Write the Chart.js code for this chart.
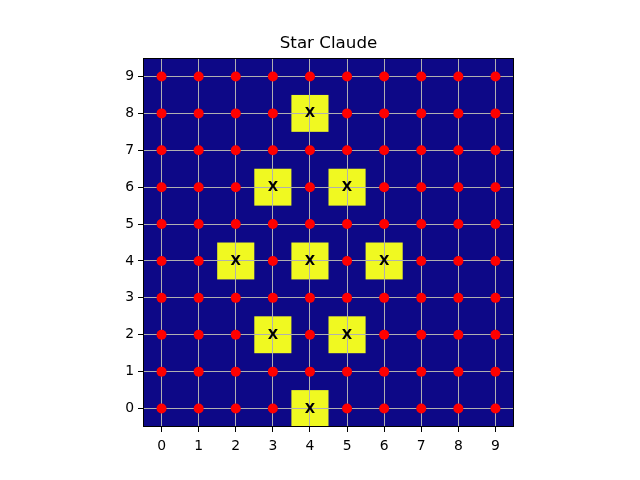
<!DOCTYPE html>
<html>
<head>
<meta charset="utf-8">
<script src="https://cdn.jsdelivr.net/npm/chart.js@4/dist/chart.umd.min.js"></script>
<style>
html,body{margin:0;padding:0;background:#fff;}
#wrap{width:640px;height:480px;position:relative;}
</style>
</head>
<body>
<div id="wrap"><canvas id="c" width="640" height="480"></canvas></div>
<script>
// Board rows, top row is y = 9, bottom row is y = 0. 'X' = star cell.
const boardRows = [
  "..........",
  "....X.....",
  "..........",
  "...X.X....",
  "..........",
  "..X.X.X...",
  "..........",
  "...X.X....",
  "..........",
  "....X....."
];
const xTicks = [0,1,2,3,4,5,6,7,8,9];
const yTicks = [0,1,2,3,4,5,6,7,8,9];
const starLabel = "X";
const titleText = "Star Claude";

const starCells = [];
const dotPoints = [];
boardRows.forEach((row, i) => {
  const y = boardRows.length - 1 - i;
  row.split('').forEach((ch, x) => {
    if (ch === 'X') starCells.push({x, y});
    else dotPoints.push({x, y});
  });
});

const FONT = "'DejaVu Sans', sans-serif";

const boardPlugin = {
  id: 'board',
  beforeDraw(chart) {
    const {ctx, chartArea: a, scales: {x, y}} = chart;
    ctx.save();
    ctx.fillStyle = '#0d0887';
    ctx.fillRect(a.left, a.top, a.right - a.left, a.bottom - a.top);
    ctx.fillStyle = '#f0f921';
    starCells.forEach(c => {
      const x0 = x.getPixelForValue(c.x - 0.5), x1 = x.getPixelForValue(c.x + 0.5);
      const y0 = y.getPixelForValue(c.y + 0.5), y1 = y.getPixelForValue(c.y - 0.5);
      ctx.fillRect(x0, y0, x1 - x0, y1 - y0);
    });
    ctx.restore();
  },
  afterDatasetsDraw(chart) {
    const {ctx, scales: {x, y}} = chart;
    ctx.save();
    ctx.fillStyle = '#000';
    ctx.font = "bold 13.5px " + FONT;
    ctx.textAlign = 'center';
    ctx.textBaseline = 'middle';
    starCells.forEach(c => {
      ctx.fillText(starLabel, x.getPixelForValue(c.x), y.getPixelForValue(c.y) + 0.5);
    });
    ctx.restore();
  },
  afterDraw(chart) {
    const {ctx, chartArea: a} = chart;
    ctx.save();
    ctx.strokeStyle = '#000';
    ctx.lineWidth = 1;
    ctx.strokeRect(Math.round(a.left) + 0.5, Math.round(a.top) + 0.5, Math.round(a.right - a.left) - 1, Math.round(a.bottom - a.top) - 1);
    ctx.restore();
  }
};

new Chart(document.getElementById('c'), {
  type: 'scatter',
  data: {
    datasets: [{
      data: dotPoints,
      pointRadius: 5,
      pointHoverRadius: 5,
      pointBackgroundColor: '#ff0000',
      pointBorderWidth: 0,
      borderWidth: 0
    }]
  },
  options: {
    responsive: false,
    animation: false,
    events: [],
    layout: {padding: {left: 0, right: 126, top: 0, bottom: 0}},
    plugins: {
      legend: {display: false},
      tooltip: {enabled: false},
      title: {
        display: true,
        text: titleText,
        fullSize: false,
        color: '#000',
        font: {family: FONT, size: 16.7, weight: 'normal', lineHeight: 1.2},
        padding: {top: 33.5, bottom: 4.5}
      }
    },
    scales: {
      x: {
        type: 'linear',
        min: -0.5, max: 9.5,
        afterBuildTicks: ax => { ax.ticks = xTicks.map(v => ({value: v})); },
        afterFit: ax => { ax.height = 53; },
        grid: {color: '#b0b0b0', lineWidth: 1, tickColor: '#000', tickLength: 5, drawOnChartArea: true},
        border: {display: false},
        ticks: {color: '#000', font: {family: FONT, size: 13.9}, padding: 6, maxRotation: 0, autoSkip: false}
      },
      y: {
        type: 'linear',
        min: -0.5, max: 9.5,
        afterBuildTicks: ax => { ax.ticks = yTicks.map(v => ({value: v})); },
        afterFit: ax => { ax.width = 143; },
        grid: {color: '#b0b0b0', lineWidth: 1, tickColor: '#000', tickLength: 5, drawOnChartArea: true},
        border: {display: false},
        ticks: {color: '#000', font: {family: FONT, size: 13.9}, padding: 4, autoSkip: false}
      }
    }
  },
  plugins: [boardPlugin]
});
</script>
</body>
</html>
